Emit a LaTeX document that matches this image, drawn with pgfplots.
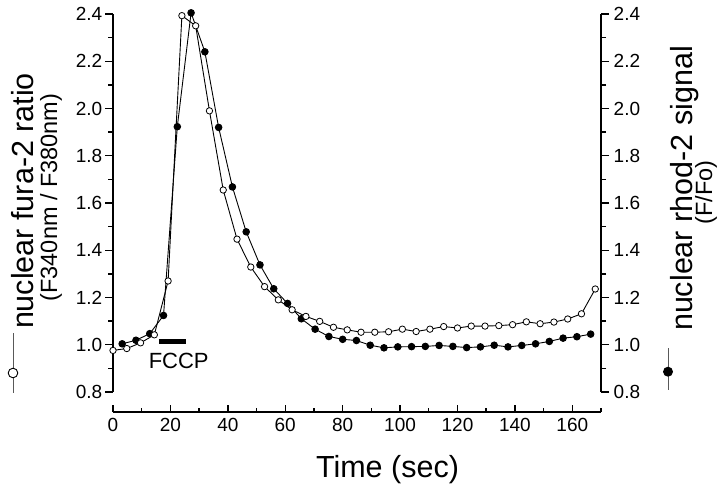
\documentclass[border=0pt]{standalone}
\usepackage{fontspec}
\setmainfont{Liberation Sans}
\usepackage{pgfplots}
\pgfplotsset{compat=1.18}
\newcommand{\fbig}{\fontsize{30.5}{36}\selectfont}
\newcommand{\fmid}{\fontsize{23.5}{28}\selectfont}
\newcommand{\ftck}{\fontsize{19}{21}\selectfont}
\pgfplotsset{
  common/.style={
    scale only axis, width=488pt, height=378pt,
    xmin=0, xmax=170, ymin=0.8, ymax=2.4,
    anchor=south west, at={(113pt,93pt)},
    /pgf/number format/assume math mode=true,
    ticklabel style={font=\ftck},
    axis line style={line width=1.6pt},
    major tick length=8pt, minor tick length=5pt,
    every tick/.style={line width=1.4pt, black},
    tick align=outside,
    ytick={0.8,1,1.2,1.4,1.6,1.8,2,2.2,2.4},
    minor ytick={0.9,1.1,1.3,1.5,1.7,1.9,2.1,2.3},
    yticklabel style={/pgf/number format/fixed, /pgf/number format/fixed zerofill, /pgf/number format/precision=1},
  }
}
\begin{document}
\begin{tikzpicture}[x=1pt,y=1pt]
\path[use as bounding box] (0,0) rectangle (720,485);
% left axis with data
\begin{axis}[common, axis x line=none, axis y line*=left, clip=false,
  yticklabel style={/tikz/inner sep=2.5pt}]
\addplot[black, line width=0.9pt, mark=*, mark size=3.3pt, mark options={fill=black, solid}] coordinates {
(3.2,1.004) (8.0,1.019) (12.8,1.047) (17.6,1.124) (22.4,1.923) (27.2,2.405)
(32.0,2.24) (36.8,1.92) (41.6,1.668) (46.4,1.478) (51.2,1.338) (56.0,1.237)
(60.8,1.175) (65.6,1.11) (70.4,1.066) (75.2,1.035) (80.0,1.023) (84.8,1.018)
(89.6,0.998) (94.4,0.987) (99.2,0.991) (104.0,0.992) (108.8,0.993) (113.6,0.997)
(118.4,0.993) (123.2,0.988) (128.0,0.991) (132.8,0.998) (137.6,0.991) (142.4,0.997)
(147.2,1.004) (152.0,1.014) (156.8,1.028) (161.6,1.034) (166.4,1.045)
};
\addplot[black, line width=0.9pt, mark=*, mark size=3.2pt, mark options={fill=white, draw=black, solid, line width=0.8pt}] coordinates {
(0,0.976) (4.8,0.984) (9.6,1.008) (14.4,1.042) (19.2,1.27) (24.0,2.393)
(28.8,2.35) (33.6,1.99) (38.4,1.655) (43.2,1.447) (48.0,1.329) (52.8,1.246)
(57.6,1.19) (62.4,1.148) (67.2,1.12) (72.0,1.099) (76.8,1.074) (81.6,1.063)
(86.4,1.053) (91.2,1.053) (96.0,1.055) (100.8,1.066) (105.6,1.056) (110.4,1.066)
(115.2,1.077) (120.0,1.071) (124.8,1.079) (129.6,1.079) (134.4,1.081) (139.2,1.085)
(144.0,1.097) (148.8,1.089) (153.6,1.096) (158.4,1.109) (163.2,1.131) (168.0,1.236)
};
% FCCP bar
\addplot[black, line width=5pt, line cap=butt, no marks] coordinates {(16,1.012) (25.3,1.012)};
\end{axis}
% right axis
\begin{axis}[common, axis x line=none, axis y line*=right,
  yticklabel style={/tikz/inner sep=4.5pt}]
\addplot[draw=none] coordinates {(0,1)};
\end{axis}
% x axis
\begin{axis}[scale only axis, width=488pt, height=20pt, at={(113pt,73pt)}, anchor=south west,
  xmin=0, xmax=170, ymin=0, ymax=1, axis y line=none, axis x line*=bottom,
  tick align=inside, xtick={0,20,...,160}, minor xtick={10,30,...,170},
  major tick length=7pt, minor tick length=4pt,
  axis line style={line width=1.6pt},
  every tick/.style={line width=1.4pt, black},
  /pgf/number format/assume math mode=true,
  ticklabel style={font=\ftck}, xticklabel style={yshift=-3pt}]
\addplot[draw=none] coordinates {(0,0.5)};
\end{axis}
% labels
\node[rotate=90, anchor=base, font=\fbig] at (33,284) {nuclear fura-2 ratio};
\node[rotate=90, anchor=base, font=\fmid] at (57,287.5) {(F340nm / F380nm)};
\draw[line width=0.7pt, black!65] (13,152) -- (13,92);
\draw[line width=0.9pt, fill=white] (13,112) circle (4.8);
\node[rotate=90, anchor=base, font=\fbig] at (692,296.5) {nuclear rhod-2 signal};
\node[rotate=90, anchor=base, font=\fmid] at (712,292.5) {(F/Fo)};
\draw[line width=0.7pt, black!65] (668,137) -- (668,95);
\fill (668,113.3) circle (5);
\node[anchor=base, font=\fbig] at (387.5,8) {Time (sec)};
\node[anchor=base, font=\fontsize{22}{26}\selectfont] at (178.7,116.7) {FCCP};
\end{tikzpicture}
\end{document}
